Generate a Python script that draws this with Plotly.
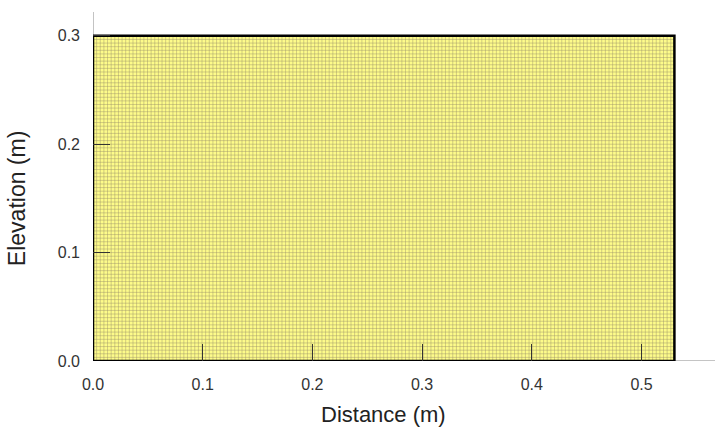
import numpy as np
import plotly.graph_objects as go

# Domain / mesh data
domain_width = 0.53      # m
domain_height = 0.30     # m
n_cols = 160
n_rows = 90
x_ticks = [0.0, 0.1, 0.2, 0.3, 0.4, 0.5]
x_tick_labels = ["0.0", "0.1", "0.2", "0.3", "0.4", "0.5"]
y_ticks = [0.0, 0.1, 0.2, 0.3]
y_tick_labels = ["0.0", "0.1", "0.2", "0.3"]
x_axis_max = 0.567
y_axis_max = 0.322

fig = go.Figure()

# Domain fill
fig.add_trace(go.Scatter(
    x=[0, domain_width, domain_width, 0, 0],
    y=[0, 0, domain_height, domain_height, 0],
    mode="lines", fill="toself", fillcolor="#fdfb8a",
    line=dict(color="rgba(0,0,0,0)", width=0), hoverinfo="skip", showlegend=False))

# Mesh lines
xs = np.linspace(0, domain_width, n_cols + 1)
ys = np.linspace(0, domain_height, n_rows + 1)
mx, my = [], []
for x in xs[1:-1]:
    mx += [x, x, None]
    my += [0, domain_height, None]
for y in ys[1:-1]:
    mx += [0, domain_width, None]
    my += [y, y, None]
fig.add_trace(go.Scatter(x=mx, y=my, mode="lines",
                         line=dict(color="rgba(150,140,105,0.42)", width=1),
                         hoverinfo="skip", showlegend=False))

# Domain outline
fig.add_trace(go.Scatter(
    x=[0, domain_width, domain_width, 0, 0],
    y=[0, 0, domain_height, domain_height, 0],
    mode="lines", line=dict(color="black", width=2.5),
    hoverinfo="skip", showlegend=False))

font = "Liberation Sans, Arial, sans-serif"
fig.update_layout(
    width=725, height=430,
    margin=dict(l=93, r=10, t=12, b=69),
    paper_bgcolor="white", plot_bgcolor="white",
    font=dict(family=font, size=16, color="#222"),
    shapes=[
        dict(type="line", xref="x", yref="y", x0=0, y0=0, x1=x_axis_max, y1=0,
             line=dict(color="#888", width=1), layer="below"),
        dict(type="line", xref="x", yref="y", x0=0, y0=0, x1=0, y1=y_axis_max,
             line=dict(color="#888", width=1), layer="below"),
    ],
    annotations=[
        dict(text="Distance (m)", x=domain_width / 2, y=-0.112, xref="x", yref="paper",
             showarrow=False, font=dict(size=22, family=font, color="#222"), yanchor="top"),
        dict(text="Elevation (m)", x=-0.121, y=domain_height / 2, xref="paper", yref="y",
             showarrow=False, textangle=-90, font=dict(size=23, family=font, color="#222"),
             xanchor="center"),
    ],
)
fig.update_xaxes(range=[0, x_axis_max], tickvals=x_ticks, ticktext=x_tick_labels,
                 showgrid=False, zeroline=False, showline=False,
                 ticks="inside", ticklen=17, tickwidth=1.2, tickcolor="#333",
                 ticklabelstandoff=12,
                 tickfont=dict(size=16, color="#333"), fixedrange=True)
fig.update_yaxes(range=[0, y_axis_max], tickvals=y_ticks, ticktext=y_tick_labels,
                 showgrid=False, zeroline=False, showline=False,
                 ticks="inside", ticklen=17, tickwidth=1.2, tickcolor="#333",
                 ticklabelstandoff=12,
                 tickfont=dict(size=16, color="#333"), fixedrange=True)

fig.write_html("out.html")
